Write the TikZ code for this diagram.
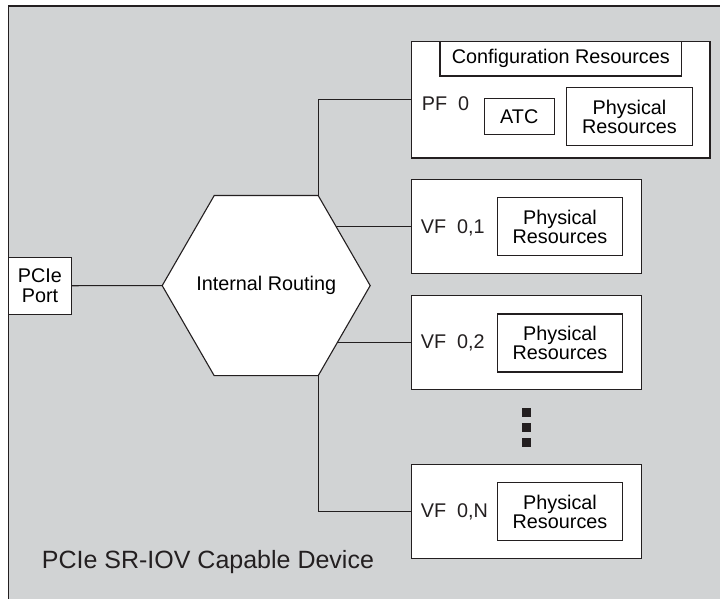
\documentclass[tikz,border=0pt]{standalone}
\usepackage{fontspec}
\setmainfont{Liberation Sans}
\usetikzlibrary{shapes.geometric}
\pgfdeclarelayer{bg}
\pgfsetlayers{bg,main}
\definecolor{bggray}{RGB}{209,211,212}
\definecolor{ink}{RGB}{35,31,32}
\tikzset{
  box/.style={draw=ink, fill=white, line width=1.1pt, rectangle, inner sep=0pt, outer sep=0pt, align=center, font=\fontsize{19.8}{19.5}\selectfont},
  lbl/.style={inner sep=0pt, anchor=west, text=ink, font=\fontsize{19.8}{19.5}\selectfont},
  wire/.style={draw=ink, line width=1.1pt},
  dot/.style={fill=ink, inner sep=0pt, minimum size=8.5pt, rectangle}
}
\begin{document}
\begin{tikzpicture}[x=1pt,y=-1pt]
\useasboundingbox (0,0) rectangle (720,598);
\clip (0,0) rectangle (720,598);
% boxes
\node[box, minimum width=63.4pt, minimum height=56.7pt] (port) at (40,285.7) {PCIe\\Port};
\node[box, regular polygon, regular polygon sides=6, minimum size=208pt] (hex) at (266.2,285.6) {\makebox[0pt]{Internal Routing}};

\node[box, minimum width=298.3pt, minimum height=116.3pt] (pf) at (560.85,99.85) {};
\node[box, minimum width=241.7pt, minimum height=34.3pt] (cfg) at (560.85,58.85) {Configuration Resources};
\node[box, minimum width=70pt, minimum height=36pt] (atc) at (519.3,116.3) {ATC};
\node[box, minimum width=125.6pt, minimum height=58pt] (pfres) at (629.5,116.7) {Physical\\Resources};
\node[lbl] (pflbl) at (421.7,103.3) {PF\ \ 0};

\node[box, minimum width=230pt, minimum height=94.3pt] (vf1) at (526.7,226.2) {};
\node[box, minimum width=125.4pt, minimum height=58pt] (vf1res) at (560,226.7) {Physical\\Resources};
\node[lbl] (vf1lbl) at (420.7,227.7) {VF\ \ 0,1};

\node[box, minimum width=230pt, minimum height=94.3pt] (vf2) at (526.7,342.5) {};
\node[box, minimum width=125.4pt, minimum height=58pt] (vf2res) at (560,343) {Physical\\Resources};
\node[lbl] (vf2lbl) at (420.7,343.3) {VF\ \ 0,2};

\node[dot] (d1) at (526.7,412.5) {};
\node[dot] (d2) at (526.7,427.5) {};
\node[dot] (d3) at (526.7,442.5) {};

\node[box, minimum width=230pt, minimum height=94.3pt] (vfn) at (526.7,511.2) {};
\node[box, minimum width=125.4pt, minimum height=58pt] (vfnres) at (560,511.8) {Physical\\Resources};
\node[lbl] (vfnlbl) at (420.7,511.7) {VF\ \ 0,N};

\node[inner sep=0pt, anchor=base west, text=ink, font=\fontsize{25}{25}\selectfont] (title) at (41.7,568.3) {PCIe SR-IOV Capable Device};

\begin{pgfonlayer}{bg}
\fill[bggray] (8.3,6) rectangle (740,620);
\draw[ink, line width=1.1pt] (740,6) -- (8.3,6) -- (8.3,620);
\draw[wire] (port.east) -- (hex.180);
\draw[wire] (hex.60) |- (pf.west);
\draw[wire] (vf1.west) -- (vf1.west -| hex.center);
\draw[wire] (vf2.west) -- (vf2.west -| hex.center);
\draw[wire] (hex.-60) |- (vfn.west);
\end{pgfonlayer}
\end{tikzpicture}
\end{document}
